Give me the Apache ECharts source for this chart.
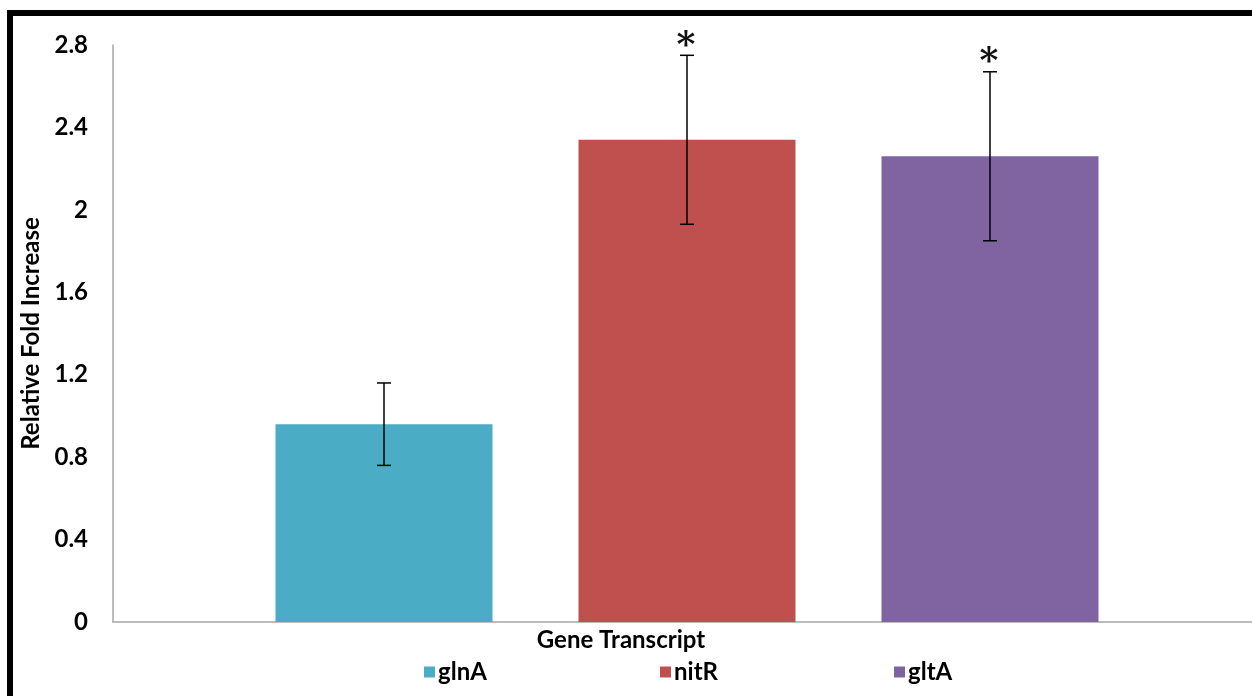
<!DOCTYPE html>
<html>
<head>
<meta charset="utf-8">
<script src="https://cdn.jsdelivr.net/npm/echarts@6/dist/echarts.min.js"></script>
<style>
html,body{margin:0;padding:0;background:#fff;overflow:hidden;}
#chart{width:1261px;height:696px;}
</style>
</head>
<body>
<div id="chart"></div>
<script>
const categories = ['Gene Transcript'];
const seriesNames = ['glnA', 'nitR', 'gltA'];
const means = [0.96, 2.34, 2.26];
const errors = [0.20, 0.41, 0.41];
const significant = [false, true, true];
const yTicks = { min: 0, max: 2.8, interval: 0.4 };
const colors = ['#4BACC6', '#C0504D', '#8064A2'];

const BAR_W = 217;
const GAP = 86;
const FONT = 'Lato, "Open Sans", sans-serif';
const FS = 24;

const chart = echarts.init(document.getElementById('chart'));

const barSeries = seriesNames.map((n, i) => ({
  name: n,
  type: 'bar',
  data: [means[i]],
  barWidth: BAR_W,
  barGap: (GAP / BAR_W * 100).toFixed(2) + '%',
  itemStyle: { color: colors[i] },
  emphasis: { disabled: true },
  silent: true
}));

const errData = seriesNames.map((n, i) => [0, i, means[i], errors[i], significant[i] ? 1 : 0]);

const errSeries = {
  type: 'custom',
  silent: true,
  z: 10,
  encode: { x: 0, y: 2 },
  data: errData,
  renderItem: function (params, api) {
    const idx = api.value(1);
    const m = api.value(2);
    const e = api.value(3);
    const sig = api.value(4);
    const off = (idx - 1) * (BAR_W + GAP);
    const top = api.coord([0, m + e]);
    const bot = api.coord([0, m - e]);
    const x = top[0] + off;
    const cap = 7;
    const st = { stroke: '#000', lineWidth: 1.5 };
    const children = [
      { type: 'line', shape: { x1: x, y1: top[1], x2: x, y2: bot[1] }, style: st },
      { type: 'line', shape: { x1: x - cap, y1: top[1], x2: x + cap, y2: top[1] }, style: st },
      { type: 'line', shape: { x1: x - cap, y1: bot[1], x2: x + cap, y2: bot[1] }, style: st }
    ];
    if (sig) {
      children.push({
        type: 'text',
        style: {
          text: '*', x: x - 1, y: top[1] + 9,
          fill: '#111', font: 'bold 36px "DejaVu Serif", serif',
          align: 'center', verticalAlign: 'bottom'
        }
      });
    }
    return { type: 'group', children: children };
  }
};

const legends = seriesNames.map((n, i) => ({
  data: [n],
  left: [419, 655, 889][i],
  top: 655,
  icon: 'rect',
  itemWidth: 11,
  itemHeight: 11,
  itemGap: 0,
  selectedMode: false,
  textStyle: { fontFamily: FONT, fontWeight: 'bold', fontSize: FS, color: '#000', padding: [0, 0, 0, -2] }
}));

chart.setOption({
  animation: false,
  grid: { left: 113, right: 0, top: 45, bottom: 74, containLabel: false },
  legend: legends,
  xAxis: {
    type: 'category',
    data: categories,
    axisLine: { lineStyle: { color: '#A6A6A6', width: 1.5 } },
    axisTick: { show: false },
    axisLabel: { show: false }
  },
  yAxis: {
    type: 'value',
    min: yTicks.min,
    max: yTicks.max,
    interval: yTicks.interval,
    name: 'Relative Fold Increase',
    nameLocation: 'middle',
    nameRotate: 90,
    nameGap: 64,
    nameTextStyle: { fontFamily: FONT, fontWeight: 'bold', fontSize: FS, color: '#000' },
    axisLine: { show: true, lineStyle: { color: '#A6A6A6', width: 1.5 } },
    axisTick: { show: false },
    splitLine: { show: false },
    axisLabel: {
      fontFamily: FONT, fontWeight: 'bold', fontSize: FS, color: '#000', margin: 25,
      formatter: v => String(Number(v.toFixed(1)))
    }
  },
  graphic: [
    { type: 'rect', shape: { x: 7, y: 10, width: 6, height: 700 }, style: { fill: '#000' }, silent: true },
    { type: 'rect', shape: { x: 7, y: 10, width: 1270, height: 6 }, style: { fill: '#000' }, silent: true },
    { type: 'text', style: { text: 'Gene Transcript', x: 621, y: 640, align: 'center', verticalAlign: 'middle',
      font: 'bold ' + FS + 'px ' + FONT, fill: '#000' }, silent: true }
  ],
  series: barSeries.concat([errSeries])
});
</script>
</body>
</html>
